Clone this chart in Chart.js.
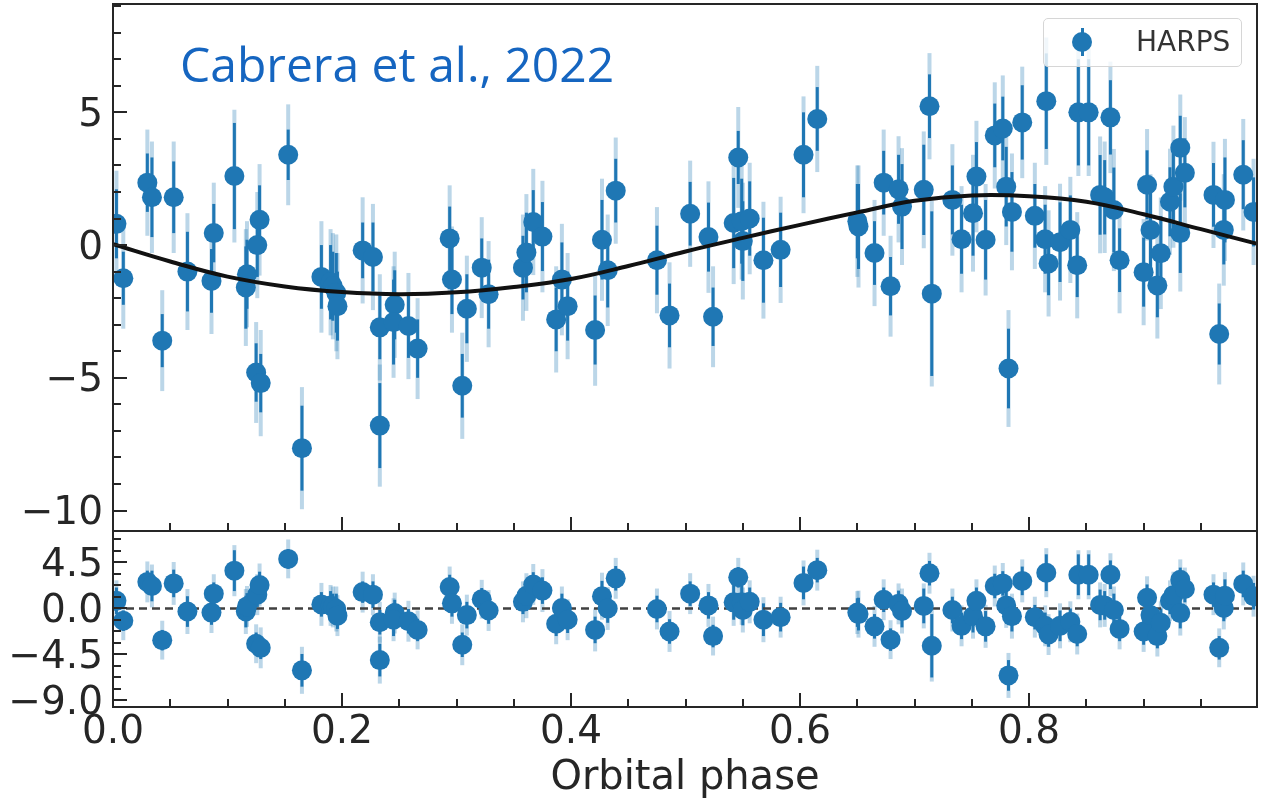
<!DOCTYPE html>
<html>
<head>
<meta charset="utf-8">
<title>HARPS RV - orbital phase</title>
<script src="https://cdn.jsdelivr.net/npm/chart.js@4.4.1/dist/chart.umd.min.js"></script>
<style>
  body { margin: 0; background: #fff; }
  #wrap { position: relative; width: 1261px; height: 801px; overflow: hidden; }
  canvas { position: absolute; left: 0; }
  #rvChart { top: 0; }
  #resChart { top: 520px; }
  #note { position: absolute; left: 180px; top: 40px; font: 48px/48px "Open Sans", sans-serif; color: #1565c0; white-space: nowrap; }
  #legend { position: absolute; left: 1043px; top: 18px; width: 197px; height: 47px; border: 1.5px solid #d6d6d6; border-radius: 5px; background: rgba(255,255,255,0.8); }
  #legBar { position: absolute; left: 1081px; top: 28px; width: 3px; height: 28px; background: #1f77b4; }
  #legDot { position: absolute; left: 1072px; top: 32px; width: 20px; height: 20px; border-radius: 50%; background: #1f77b4; }
  #legText { position: absolute; left: 1136px; top: 28px; font: 28px/28px "DejaVu Sans", sans-serif; color: #333; }
</style>
</head>
<body>
<div id="wrap">
  <canvas id="rvChart" width="1261" height="540"></canvas>
  <canvas id="resChart" width="1261" height="281"></canvas>
  <div id="note">Cabrera et al., 2022</div>
  <div id="legend"></div>
  <div id="legBar"></div>
  <div id="legDot"></div>
  <div id="legText">HARPS</div>
</div>

<script>
// ------------------------------DATA------------------------------

var phase = [
  0.003, 0.009, 0.030, 0.034, 0.043, 0.053, 0.065, 0.086, 0.088, 0.106,
  0.116, 0.117, 0.125, 0.126, 0.128, 0.129, 0.153, 0.165, 0.182, 0.190,
  0.192, 0.195, 0.196, 0.218, 0.227, 0.233, 0.233, 0.246, 0.245, 0.258,
  0.266, 0.294, 0.296, 0.305, 0.309, 0.322, 0.328, 0.358, 0.361, 0.367,
  0.375, 0.387, 0.392, 0.397, 0.421, 0.427, 0.432, 0.439, 0.475, 0.486,
  0.504, 0.520, 0.524, 0.542, 0.546, 0.549, 0.550, 0.556, 0.568, 0.583,
  0.603, 0.615, 0.650, 0.651, 0.665, 0.673, 0.679, 0.686, 0.689, 0.708,
  0.713, 0.715, 0.733, 0.741, 0.751, 0.754, 0.762, 0.770, 0.777, 0.780,
  0.782, 0.785, 0.794, 0.805, 0.814, 0.815, 0.817, 0.827, 0.836, 0.842,
  0.843, 0.852, 0.862, 0.866, 0.871, 0.874, 0.879, 0.900, 0.903, 0.906,
  0.912, 0.915, 0.923, 0.926, 0.932, 0.932, 0.936, 0.961, 0.966, 0.970,
  0.971, 0.987, 0.996
];

// radial velocity (m/s)
var rv = [
  0.80, -1.25, 2.35, 1.80, -3.60, 1.80, -1.00, -1.35, 0.45, 2.60,
  -1.60, -1.10, -4.80, 0.00, 0.95, -5.20, 3.40, -7.65, -1.20, -1.40,
  -1.55, -1.80, -2.30, -0.20, -0.45, -3.10, -6.80, -2.25, -2.90, -3.05,
  -3.90, 0.25, -1.30, -5.30, -2.40, -0.85, -1.85, -0.85, -0.28, 0.87,
  0.32, -2.80, -1.30, -2.30, -3.20, 0.20, -0.95, 2.05, -0.57, -2.65,
  1.18, 0.30, -2.70, 0.83, 3.30, 0.90, 0.15, 1.00, -0.57, -0.18,
  3.40, 4.75, 0.90, 0.70, -0.30, 2.35, -1.55, 2.10, 1.45, 2.08,
  5.23, -1.83, 1.70, 0.22, 1.20, 2.58, 0.20, 4.13, 4.39, 2.20,
  -4.65, 1.25, 4.62, 1.10, 0.22, 5.42, -0.69, 0.11, 0.57, -0.76,
  5.00, 5.00, 1.89, 1.80, 4.81, 1.32, -0.57, -1.02, 2.27, 0.57,
  -1.52, -0.31, 1.63, 2.20, 0.45, 3.67, 2.72, 1.89, -3.35, 0.57,
  1.70, 2.65, 1.25
];

// dark bar: instrument error
var rvErr = [
  1.3, 1.0, 1.1, 1.5, 1.0, 1.35, 1.5, 1.2, 1.1, 2.0,
  1.55, 1.3, 1.1, 1.2, 1.3, 1.1, 0.95, 1.6, 1.2, 1.4,
  1.3, 1.5, 1.3, 1.05, 1.3, 1.2, 1.6, 1.3, 1.6, 1.2,
  1.1, 1.2, 1.3, 1.2, 1.3, 1.1, 1.3, 1.2, 1.5, 1.2,
  1.3, 1.2, 1.4, 1.3, 1.3, 1.5, 1.4, 1.2, 1.3, 1.2,
  1.2, 1.3, 1.1, 1.7, 1.0, 1.6, 1.5, 1.4, 1.6, 1.4,
  1.6, 1.2, 1.4, 1.6, 1.2, 1.2, 1.1, 1.3, 1.6, 1.7,
  1.2, 3.1, 1.3, 1.3, 1.6, 1.3, 1.5, 1.2, 1.2, 1.5,
  1.5, 1.5, 1.4, 1.2, 1.3, 1.8, 1.2, 1.5, 1.3, 1.2,
  2.0, 2.0, 1.5, 1.4, 1.4, 1.6, 1.2, 1.3, 1.3, 1.4,
  1.2, 1.4, 1.3, 1.6, 1.5, 1.2, 1.3, 1.2, 1.15, 1.3,
  1.6, 1.3, 1.3
];

// light bar: error incl. jitter
var rvErrJit = [
  2.0, 1.9, 2.0, 2.1, 1.9, 2.1, 2.2, 2.0, 1.9, 2.5,
  2.2, 2.0, 1.9, 2.0, 2.1, 2.0, 1.9, 2.3, 2.1, 2.0,
  2.0, 2.2, 2.0, 2.0, 2.0, 2.0, 2.3, 2.0, 2.1, 2.0,
  1.9, 2.0, 2.0, 2.0, 2.0, 1.9, 2.0, 2.0, 2.2, 2.0,
  2.1, 2.0, 2.1, 2.0, 2.1, 2.3, 2.1, 2.0, 2.0, 2.0,
  2.0, 2.1, 1.9, 2.3, 1.9, 2.2, 2.2, 2.1, 2.2, 2.0,
  2.2, 2.0, 2.1, 2.3, 2.0, 2.0, 1.9, 2.0, 2.2, 2.2,
  2.0, 3.5, 2.1, 2.0, 2.2, 2.1, 2.1, 2.0, 2.0, 2.2,
  2.2, 2.2, 2.1, 2.0, 2.0, 2.4, 2.0, 2.2, 2.0, 2.0,
  2.4, 2.4, 2.2, 2.1, 2.1, 2.3, 2.0, 2.0, 2.1, 2.1,
  2.0, 2.1, 2.0, 2.3, 2.2, 2.0, 2.1, 2.0, 1.9, 2.1,
  2.3, 2.1, 2.0
];

// residuals (bottom panel)
var resid = [
  0.75, -1.20, 2.60, 2.20, -3.10, 2.45, -0.30, -0.40, 1.45, 3.70,
  -0.30, 0.20, -3.45, 1.35, 2.30, -3.85, 4.85, -6.05, 0.40, 0.30,
  0.15, -0.05, -0.70, 1.60, 1.35, -1.35, -5.05, -0.45, -1.10, -1.25,
  -2.10, 2.10, 0.50, -3.55, -0.65, 0.90, -0.20, 0.65, 1.25, 2.35,
  1.75, -1.50, 0.05, -1.10, -2.10, 1.20, 0.00, 2.95, -0.05, -2.25,
  1.45, 0.30, -2.70, 0.60, 3.05, 0.60, -0.15, 0.65, -1.10, -0.85,
  2.50, 3.75, -0.40, -0.55, -1.75, 0.85, -3.05, 0.45, -0.25, 0.25,
  3.45, -3.65, -0.15, -1.70, -0.75, 0.75, -1.75, 2.20, 2.45, 0.30,
  -6.55, -0.75, 2.70, -0.85, -1.70, 3.50, -2.55, -1.70, -1.30, -2.50,
  3.30, 3.30, 0.35, 0.30, 3.30, -0.15, -2.00, -2.25, 1.05, -0.65,
  -2.70, -1.40, 0.75, 1.30, -0.45, 2.80, 1.90, 1.35, -3.85, 0.05,
  1.25, 2.40, 1.20
];

// model curve, every 0.05 in phase
var modelPhase = [0, 0.05, 0.10, 0.15, 0.20, 0.25, 0.30, 0.35, 0.40, 0.45, 0.50,
                  0.55, 0.60, 0.65, 0.70, 0.75, 0.80, 0.85, 0.90, 0.95, 1.0];
var modelRV = [0.03, -0.62, -1.19, -1.56, -1.77, -1.85, -1.78, -1.58, -1.28, -0.79, -0.24,
               0.27, 0.76, 1.23, 1.67, 1.87, 1.84, 1.63, 1.16, 0.60, 0.04];

var zeroPhase = [0, 1];
var zeroLine = [0, 0];

// ticks
var phaseTicks = [0, 0.05, 0.1, 0.15, 0.2, 0.25, 0.3, 0.35, 0.4, 0.45,
                  0.5, 0.55, 0.6, 0.65, 0.7, 0.75, 0.8, 0.85, 0.9, 0.95];
var phaseTickLabels = ["0.0", "", "", "", "0.2", "", "", "", "0.4", "",
                       "", "", "0.6", "", "", "", "0.8", "", "", ""];
var rvTicks = [-10, -9, -8, -7, -6, -5, -4, -3, -2, -1, 0, 1, 2, 3, 4, 5, 6, 7, 8, 9];
var rvTickLabels = ["\u221210", "", "", "", "", "\u22125", "", "", "", "",
                    "0", "", "", "", "", "5", "", "", "", ""];
var resTicks = [-9, -7.875, -6.75, -5.625, -4.5, -3.375, -2.25, -1.125, 0,
                1.125, 2.25, 3.375, 4.5, 5.625, 6.75];
var resTickLabels = ["\u22129.0", "", "", "", "\u22124.5", "", "", "", "0.0",
                     "", "", "", "4.5", "", ""];

// -------------------------------------PLUGINS-----------------------------------

var BLUE = "#1f77b4";
var INK = "#262626";

// vertical error bars, light (with jitter) under dark
var errorBars = {
  id: "errorBars",
  beforeDatasetsDraw: function (chart) {
    var ctx = chart.ctx;
    var a = chart.chartArea;
    ctx.save();
    ctx.beginPath();
    ctx.rect(a.left, a.top, a.right - a.left, a.bottom - a.top);
    ctx.clip();
    chart.data.datasets.forEach(function (ds, k) {
      if (!ds.errIn) return;
      var meta = chart.getDatasetMeta(k);
      var xs = chart.scales[meta.xAxisID];
      var ys = chart.scales[meta.yAxisID];
      [["rgba(31,119,180,0.3)", 4, ds.errOut], [BLUE, 3, ds.errIn]].forEach(function (st) {
        ctx.strokeStyle = st[0];
        ctx.lineWidth = st[1];
        ds.data.forEach(function (p, i) {
          var px = xs.getPixelForValue(p.x);
          ctx.beginPath();
          ctx.moveTo(px, ys.getPixelForValue(p.y + st[2][i]));
          ctx.lineTo(px, ys.getPixelForValue(p.y - st[2][i]));
          ctx.stroke();
        });
      });
    });
    ctx.restore();
  }
};

// axes box + inward ticks (matplotlib style)
var frameTicks = {
  id: "frameTicks",
  afterDatasetsDraw: function (chart, args, opts) {
    var ctx = chart.ctx;
    var a = chart.chartArea;
    var xs = chart.scales.x;
    var ys = chart.scales.y;
    ctx.save();
    ctx.strokeStyle = INK;
    ctx.lineWidth = 2;
    ctx.strokeRect(a.left, a.top, a.right - a.left, a.bottom - a.top);
    ctx.beginPath();
    phaseTicks.forEach(function (v, i) {
      var px = Math.round(xs.getPixelForValue(v));
      var len = phaseTickLabels[i] ? 14 : 8;
      ctx.moveTo(px, a.bottom);
      ctx.lineTo(px, a.bottom - len);
    });
    opts.ticks.forEach(function (v, i) {
      var py = Math.round(ys.getPixelForValue(v));
      var len = opts.labels[i] ? 14 : 8;
      ctx.moveTo(a.left, py);
      ctx.lineTo(a.left + len, py);
    });
    ctx.stroke();
    ctx.restore();
  }
};

function yAxis(min, max, ticks, labels) {
  return {
    type: "linear",
    min: min,
    max: max,
    afterFit: function (s) {
      s.width = 113;
      // no extra room for half tick labels at the ends
      s.paddingTop = 0;
      s.paddingBottom = 0;
    },
    afterBuildTicks: function (s) { s.ticks = ticks.map(function (v) { return { value: v }; }); },
    grid: { display: false, drawTicks: false },
    border: { display: false },
    ticks: {
      autoSkip: false,
      padding: 10,
      labelOffset: 3.5,
      color: INK,
      font: { family: "DejaVu Sans", size: 39 },
      callback: function (v, i) { return labels[i]; }
    }
  };
}

// ------------------------------------TOP: RV------------------------------------

new Chart("rvChart", {
  type: "scatter",
  data: {
    datasets: [{
      type: "line",
      data: modelPhase.map(function (p, i) { return { x: p, y: modelRV[i] }; }),
      borderColor: "#111111",
      borderWidth: 4,
      pointRadius: 0,
      tension: 0.4,
      fill: false,
      order: 0
    }, {
      label: "HARPS",
      data: phase.map(function (p, i) { return { x: p, y: rv[i] }; }),
      errIn: rvErr,
      errOut: rvErrJit,
      backgroundColor: BLUE,
      borderWidth: 0,
      pointRadius: 10,
      pointHoverRadius: 10,
      clip: 0,
      order: 1
    }]
  },
  options: {
    responsive: false,
    animation: false,
    events: [],
    layout: { autoPadding: false, padding: { top: 4, right: 4, bottom: 9, left: 0 } },
    plugins: {
      legend: { display: false },
      tooltip: { enabled: false },
      frameTicks: { ticks: rvTicks, labels: rvTickLabels }
    },
    scales: {
      x: { type: "linear", min: 0, max: 0.999, display: false },
      y: yAxis(-10.77, 9.08, rvTicks, rvTickLabels)
    }
  },
  plugins: [errorBars, frameTicks]
});

// ---------------------------------BOTTOM: RESIDUALS-------------------------------

var resY = yAxis(-9.64, 7.58, resTicks, resTickLabels);

new Chart("resChart", {
  type: "scatter",
  data: {
    datasets: [{
      type: "line",
      data: zeroPhase.map(function (p, i) { return { x: p, y: zeroLine[i] }; }),
      borderColor: "#404040",
      borderWidth: 2.5,
      borderDash: [8, 5],
      pointRadius: 0,
      fill: false,
      order: 2
    }, {
      label: "HARPS residuals",
      data: phase.map(function (p, i) { return { x: p, y: resid[i] }; }),
      errIn: rvErr,
      errOut: rvErrJit,
      backgroundColor: BLUE,
      borderWidth: 0,
      pointRadius: 10,
      pointHoverRadius: 10,
      clip: 0,
      order: 1
    }]
  },
  options: {
    responsive: false,
    animation: false,
    events: [],
    layout: { autoPadding: false, padding: { top: 11, right: 4, bottom: 0, left: 0 } },
    plugins: {
      legend: { display: false },
      tooltip: { enabled: false },
      frameTicks: { ticks: resTicks, labels: resTickLabels }
    },
    scales: {
      x: {
        type: "linear",
        min: 0,
        max: 0.999,
        afterFit: function (s) {
          s.height = 94;
          s.paddingLeft = 0;
          s.paddingRight = 0;
        },
        afterBuildTicks: function (s) { s.ticks = phaseTicks.map(function (v) { return { value: v }; }); },
        grid: { display: false, drawTicks: false },
        border: { display: false },
        ticks: {
          autoSkip: false,
          maxRotation: 0,
          padding: 2,
          color: INK,
          font: { family: "DejaVu Sans", size: 39 },
          callback: function (v, i) { return phaseTickLabels[i]; }
        },
        title: {
          display: true,
          text: "Orbital phase",
          color: INK,
          font: { family: "DejaVu Sans", size: 40, lineHeight: 1 },
          padding: { top: 0, bottom: 2 }
        }
      },
      y: resY
    }
  },
  plugins: [errorBars, frameTicks]
});
</script>
</body>
</html>
